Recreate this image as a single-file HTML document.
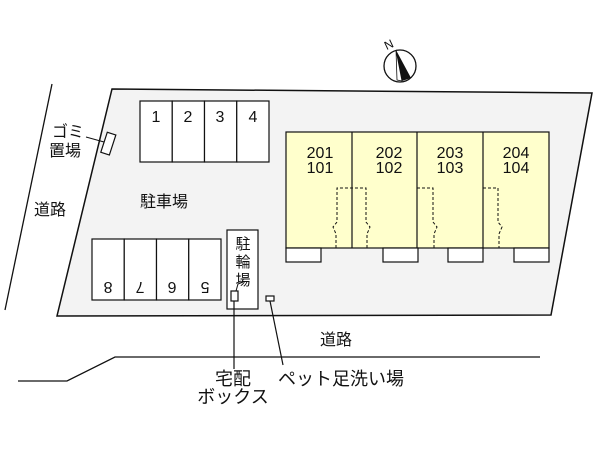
<!DOCTYPE html>
<html><head><meta charset="utf-8"><style>
body{margin:0;background:#fff}
svg{display:block}
text{font-family:"Liberation Sans","Noto Sans CJK JP",sans-serif;fill:#111}
</style></head><body>
<svg width="600" height="450" viewBox="0 0 600 450" xmlns="http://www.w3.org/2000/svg">
<rect width="600" height="450" fill="#fff"/>
<line x1="52" y1="84" x2="5" y2="310" stroke="#111" stroke-width="1.3"/>
<polygon points="112,89 592,93 551,315 57,316" fill="#f3f3f3" stroke="#111" stroke-width="1.5"/>
<polyline points="18,381 67,381 115,357 540,357" fill="none" stroke="#111" stroke-width="1.3"/>
<circle cx="400" cy="66" r="16" fill="#fff" stroke="#111" stroke-width="1.3"/>
<polygon points="396,50 411,78 402,81" fill="#111"/>
<polygon points="396,50 402,81 397,80" fill="#fff" stroke="#111" stroke-width="0.8"/>
<text x="384" y="48" font-size="12" transform="rotate(-25 390 43)">N</text>
<g fill="#fff" stroke="#111" stroke-width="1.2">
<rect x="140" y="101" width="32.25" height="61"/>
<rect x="172.25" y="101" width="32.25" height="61"/>
<rect x="204.5" y="101" width="32.25" height="61"/>
<rect x="236.75" y="101" width="32.25" height="61"/>
<rect x="92" y="239" width="32.25" height="61"/>
<rect x="124.25" y="239" width="32.25" height="61"/>
<rect x="156.5" y="239" width="32.25" height="61"/>
<rect x="188.75" y="239" width="32.25" height="61"/>
<rect x="227" y="230" width="31" height="79"/>
</g>
<g font-size="16" text-anchor="middle">
<text x="156" y="122">1</text><text x="188" y="122">2</text><text x="220" y="122">3</text><text x="253" y="122">4</text>
<text transform="rotate(180 108 288)" x="108" y="294">8</text>
<text transform="rotate(180 140 288)" x="140" y="294">7</text>
<text transform="rotate(180 172 288)" x="172" y="294">6</text>
<text transform="rotate(180 205 288)" x="205" y="294">5</text>
</g>
<g font-size="15" text-anchor="middle">
<text x="243" y="249">駐</text><text x="243" y="267">輪</text><text x="243" y="285">場</text>
</g>
<rect x="286" y="132" width="263" height="116" fill="#ffffcc" stroke="#111" stroke-width="1.2"/>
<line x1="352" y1="132" x2="352" y2="248" stroke="#111" stroke-width="1.2"/>
<line x1="417" y1="132" x2="417" y2="248" stroke="#111" stroke-width="1.2"/>
<line x1="483" y1="132" x2="483" y2="248" stroke="#111" stroke-width="1.2"/>
<g fill="#fff" stroke="#111" stroke-width="1.2">
<rect x="286" y="248" width="35" height="14"/>
<rect x="383" y="248" width="35" height="14"/>
<rect x="448" y="248" width="35" height="14"/>
<rect x="514" y="248" width="35" height="14"/>
</g>
<g fill="none" stroke="#111" stroke-width="1" stroke-dasharray="3,2">
<polyline points="336,248 336,234 333,227 337,222 337,188 366,188 366,222 370,227 367,234 367,248"/>
<polyline points="417,188 433,188 433,222 437,227 434,234 434,248"/>
<polyline points="483,188 498,188 498,222 502,227 499,234 499,248"/>
</g>
<g font-size="16" text-anchor="middle">
<text x="320" y="158">201</text><text x="320" y="173">101</text>
<text x="389" y="158">202</text><text x="389" y="173">102</text>
<text x="450" y="158">203</text><text x="450" y="173">103</text>
<text x="516" y="158">204</text><text x="516" y="173">104</text>
</g>
<rect x="104" y="133" width="9" height="21" fill="#fff" stroke="#111" stroke-width="1.2" transform="rotate(18 108 143)"/>
<line x1="86" y1="137" x2="104" y2="142" stroke="#111" stroke-width="1"/>
<text x="52" y="137" font-size="16">ゴミ</text>
<text x="49" y="156" font-size="16">置場</text>
<text x="34" y="215" font-size="16">道路</text>
<text x="140" y="207" font-size="16">駐車場</text>
<text x="320" y="345" font-size="16">道路</text>
<rect x="231" y="291" width="7" height="10" fill="#fff" stroke="#111" stroke-width="1.2"/>
<polyline points="236,291 238,284 243,282" fill="none" stroke="#111" stroke-width="1"/>
<line x1="234" y1="301" x2="234" y2="369" stroke="#111" stroke-width="1.2"/>
<rect x="266" y="296" width="8" height="5" fill="#fff" stroke="#111" stroke-width="1.2"/>
<line x1="270" y1="301" x2="283" y2="365" stroke="#111" stroke-width="1.2"/>
<text x="233" y="385" font-size="18" text-anchor="middle">宅配</text>
<text x="233" y="403" font-size="18" text-anchor="middle">ボックス</text>
<text x="278" y="385" font-size="18">ペット足洗い場</text>
</svg>
</body></html>
